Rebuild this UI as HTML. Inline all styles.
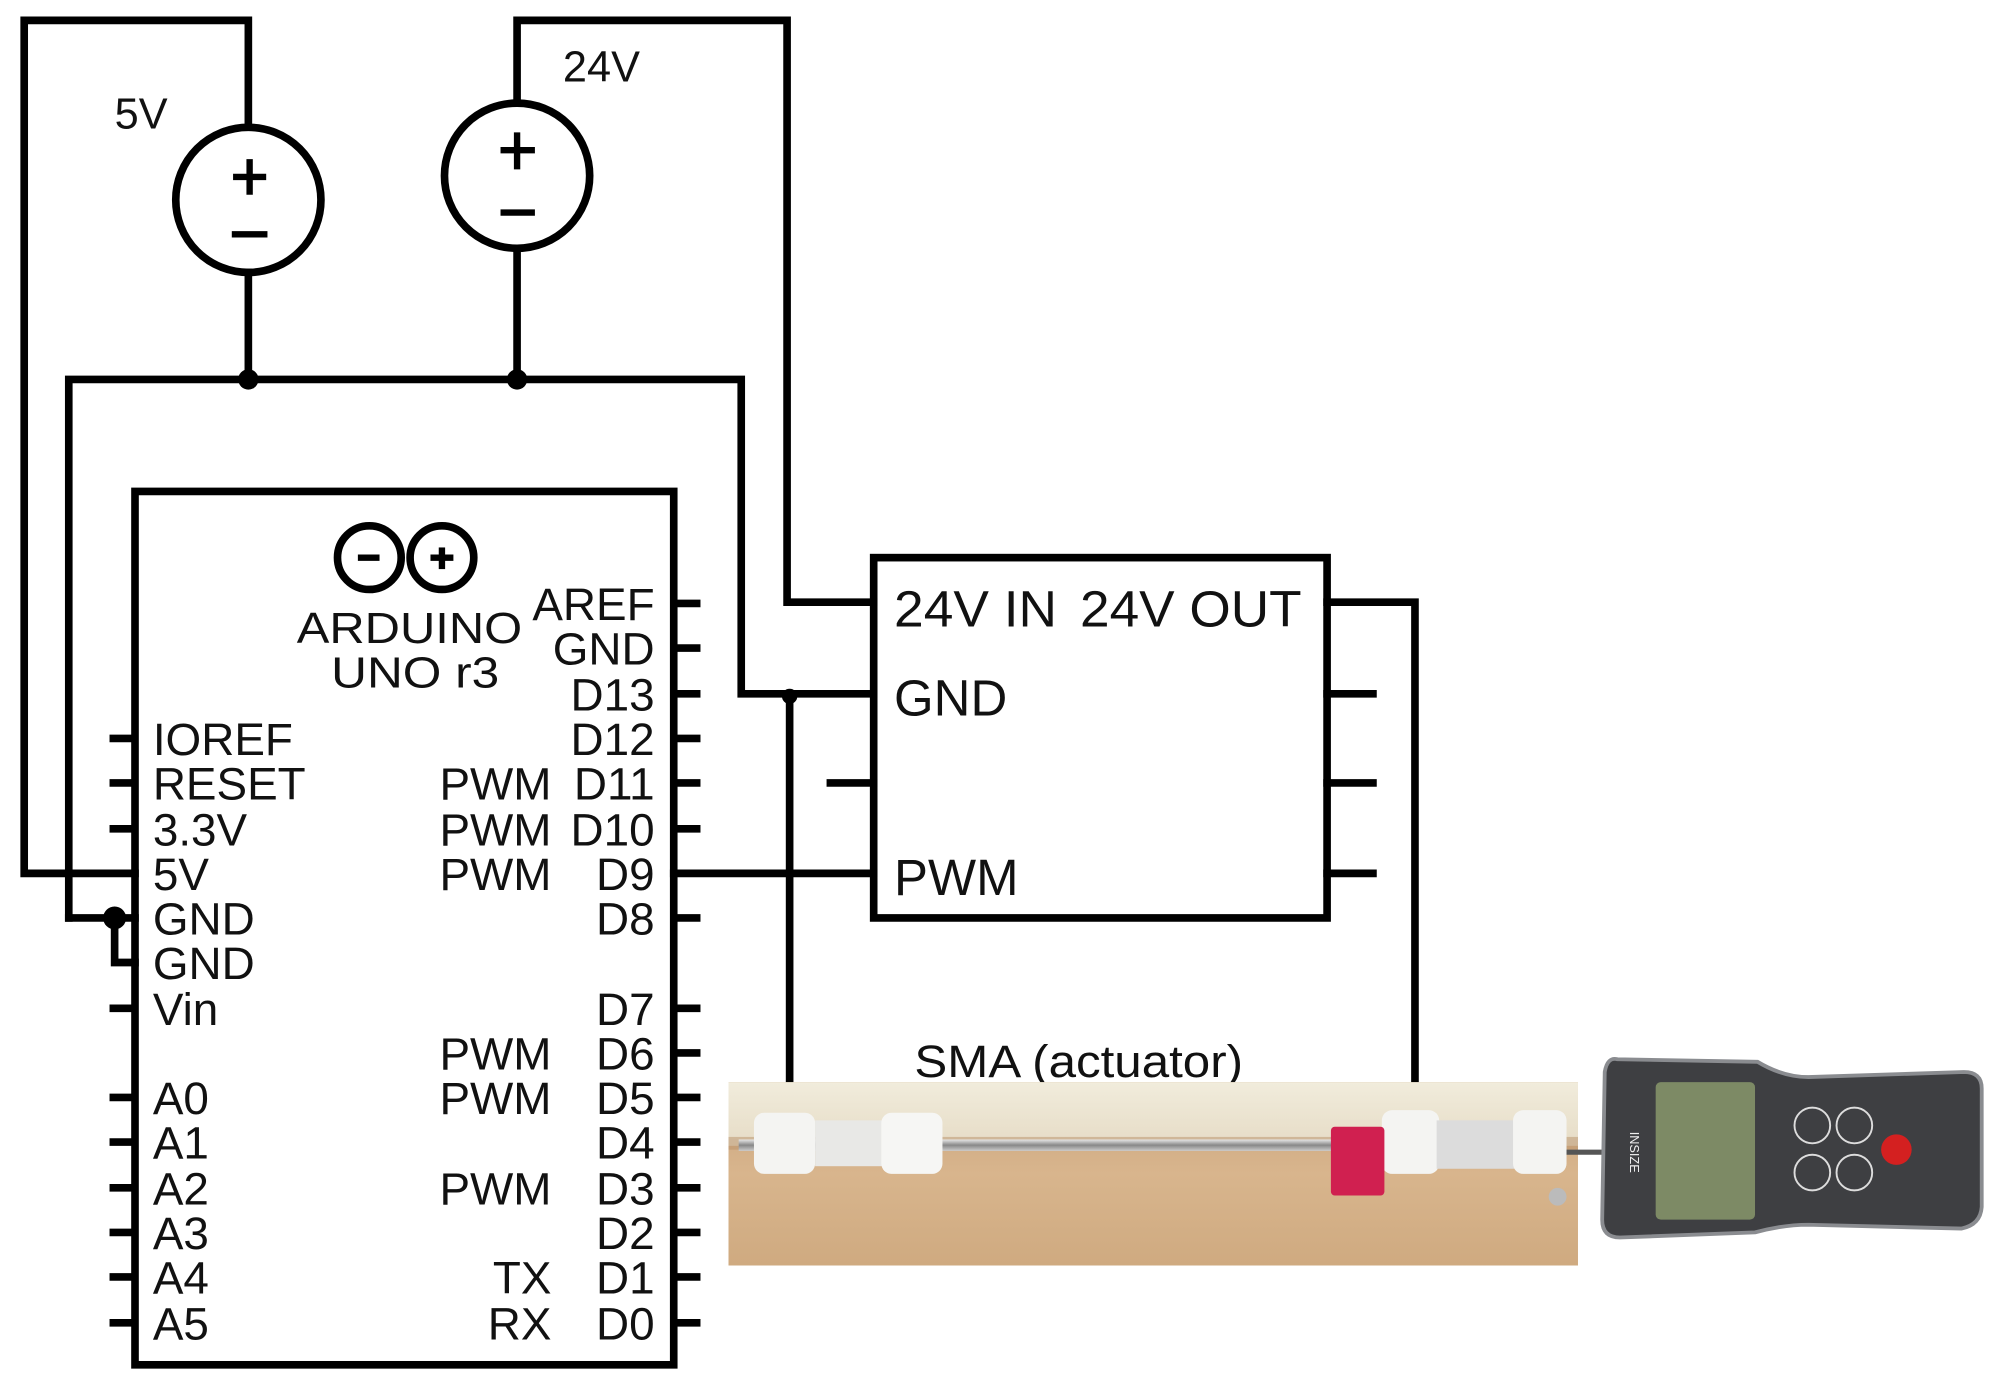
<!DOCTYPE html>
<html><head><meta charset="utf-8"><style>
html,body{margin:0;padding:0;background:#fff;}
svg{display:block;}
text{font-family:"Liberation Sans",sans-serif;fill:#111;}
</style></head><body>
<svg width="1997" height="1389" viewBox="0 0 1568 1091" preserveAspectRatio="none" xmlns="http://www.w3.org/2000/svg">
<defs>
<linearGradient id="wall" x1="0" y1="0" x2="0" y2="1"><stop offset="0" stop-color="#f1ecdc"/><stop offset="1" stop-color="#e6dcc6"/></linearGradient>
<linearGradient id="wood" x1="0" y1="0" x2="0" y2="1"><stop offset="0" stop-color="#c9a37c"/><stop offset="0.5" stop-color="#d8b58d"/><stop offset="1" stop-color="#cfaa80"/></linearGradient>
<linearGradient id="rod" x1="0" y1="0" x2="0" y2="1"><stop offset="0" stop-color="#e8e8e8"/><stop offset="0.5" stop-color="#888"/><stop offset="1" stop-color="#ccc"/></linearGradient>
</defs>
<g fill="none" stroke="#000" stroke-width="6" stroke-linecap="square">
<polyline points="195,99 195,16 19,16 19,686 106,686"/>
<circle cx="195" cy="157" r="57"/>
<line x1="195" y1="214" x2="195" y2="298"/>
<polyline points="406,80 406,16 618,16 618,473 686,473"/>
<circle cx="406" cy="138" r="57"/>
<line x1="406" y1="195" x2="406" y2="298"/>
<polyline points="54,721 54,298 582,298 582,545 686,545"/>
<line x1="54" y1="721" x2="106" y2="721"/>
<polyline points="90,721 90,756 106,756"/>
<rect x="686" y="438" width="356" height="283"/>
<polyline points="1042,473 1111,473 1111,850"/>
<line x1="1042" y1="545" x2="1078" y2="545"/>
<line x1="1042" y1="615" x2="1078" y2="615"/>
<line x1="1042" y1="686" x2="1078" y2="686"/>
<line x1="652" y1="615" x2="686" y2="615"/>
<line x1="620" y1="547" x2="620" y2="850"/>
<line x1="529" y1="686" x2="686" y2="686"/>
<rect x="106" y="386" width="423" height="686"/>
<circle cx="290" cy="438" r="25"/>
<circle cx="347" cy="438" r="25"/>
</g>
<g stroke="#000" stroke-width="5">
<line x1="183" y1="139" x2="209" y2="139"/><line x1="196" y1="125" x2="196" y2="153"/>
<line x1="182" y1="184" x2="210" y2="184"/>
<line x1="393" y1="118" x2="420" y2="118"/><line x1="406" y1="104" x2="406" y2="133"/>
<line x1="393" y1="167" x2="420" y2="167"/>
<line x1="281" y1="438" x2="298" y2="438"/>
<line x1="338" y1="438" x2="356" y2="438"/><line x1="347" y1="430" x2="347" y2="447"/>
</g>
<g fill="#000">
<circle cx="195" cy="298" r="8"/><circle cx="406" cy="298" r="8"/>
<circle cx="620" cy="547" r="6"/><circle cx="90" cy="721" r="9"/>
</g>
<g stroke="#000" stroke-width="6">
<line x1="529" y1="474" x2="550" y2="474"/><line x1="529" y1="509" x2="550" y2="509"/>
<line x1="529" y1="545" x2="550" y2="545"/><line x1="529" y1="580" x2="550" y2="580"/>
<line x1="529" y1="615" x2="550" y2="615"/><line x1="529" y1="651" x2="550" y2="651"/>
<line x1="529" y1="721" x2="550" y2="721"/>
<line x1="529" y1="792" x2="550" y2="792"/><line x1="529" y1="827" x2="550" y2="827"/>
<line x1="529" y1="862" x2="550" y2="862"/><line x1="529" y1="897" x2="550" y2="897"/>
<line x1="529" y1="933" x2="550" y2="933"/><line x1="529" y1="968" x2="550" y2="968"/>
<line x1="529" y1="1003" x2="550" y2="1003"/><line x1="529" y1="1039" x2="550" y2="1039"/>
<line x1="86" y1="580" x2="106" y2="580"/><line x1="86" y1="615" x2="106" y2="615"/>
<line x1="86" y1="651" x2="106" y2="651"/><line x1="86" y1="792" x2="106" y2="792"/>
<line x1="86" y1="862" x2="106" y2="862"/><line x1="86" y1="897" x2="106" y2="897"/>
<line x1="86" y1="933" x2="106" y2="933"/><line x1="86" y1="968" x2="106" y2="968"/>
<line x1="86" y1="1003" x2="106" y2="1003"/><line x1="86" y1="1039" x2="106" y2="1039"/>
</g>
<g font-size="34">
<text x="90" y="101">5V</text>
<text x="442" y="64">24V</text>
<text x="233" y="505" textLength="177" lengthAdjust="spacingAndGlyphs">ARDUINO</text>
<text x="260" y="540" textLength="132" lengthAdjust="spacingAndGlyphs">UNO r3</text>
</g>
<g font-size="36">
<text x="120" y="593">IOREF</text><text x="120" y="628">RESET</text>
<text x="120" y="664">3.3V</text><text x="120" y="699">5V</text>
<text x="120" y="734">GND</text><text x="120" y="769">GND</text>
<text x="120" y="805">Vin</text>
<text x="120" y="875">A0</text><text x="120" y="910">A1</text><text x="120" y="946">A2</text>
<text x="120" y="981">A3</text><text x="120" y="1016">A4</text><text x="120" y="1052">A5</text>
</g>
<g font-size="36" text-anchor="end">
<text x="514" y="487">AREF</text><text x="514" y="522">GND</text><text x="514" y="558">D13</text>
<text x="514" y="593">D12</text><text x="514" y="628">D11</text><text x="514" y="664">D10</text>
<text x="514" y="699">D9</text><text x="514" y="734">D8</text><text x="514" y="805">D7</text>
<text x="514" y="840">D6</text><text x="514" y="875">D5</text><text x="514" y="910">D4</text>
<text x="514" y="946">D3</text><text x="514" y="981">D2</text><text x="514" y="1016">D1</text>
<text x="514" y="1052">D0</text>
<text x="433" y="628">PWM</text><text x="433" y="664">PWM</text><text x="433" y="699">PWM</text>
<text x="433" y="840">PWM</text><text x="433" y="875">PWM</text><text x="433" y="946">PWM</text>
<text x="433" y="1016">TX</text><text x="433" y="1052">RX</text>
</g>
<g font-size="40">
<text x="702" y="492" textLength="128" lengthAdjust="spacingAndGlyphs">24V IN</text>
<text x="848" y="492" textLength="174" lengthAdjust="spacingAndGlyphs">24V OUT</text>
<text x="702" y="562">GND</text><text x="702" y="703">PWM</text>
</g>
<text x="718" y="846" font-size="36" textLength="258" lengthAdjust="spacingAndGlyphs">SMA (actuator)</text>
<rect x="572" y="850" width="667" height="144" fill="url(#wood)"/>
<rect x="572" y="850" width="667" height="50" fill="url(#wall)"/>
<rect x="572" y="893" width="667" height="10" fill="#b89068" opacity="0.5"/>
<rect x="580" y="895" width="650" height="9" fill="url(#rod)"/>
<rect x="592" y="874" width="48" height="48" rx="8" fill="#f4f4f2"/>
<rect x="640" y="880" width="55" height="36" fill="#e8e8e6"/>
<rect x="692" y="874" width="48" height="48" rx="8" fill="#f6f6f4"/>
<rect x="1085" y="872" width="45" height="50" rx="8" fill="#f4f4f2"/>
<rect x="1128" y="880" width="62" height="38" fill="#dcdcdc"/>
<rect x="1188" y="872" width="42" height="50" rx="8" fill="#f4f4f2"/>
<rect x="1045" y="885" width="42" height="54" rx="3" fill="#d02050"/>
<circle cx="1223" cy="940" r="7" fill="#bbb"/>
<line x1="1230" y1="905" x2="1262" y2="905" stroke="#555" stroke-width="4"/>
<path d="M1270,832 Q1262,830 1260,842 L1258,958 Q1258,972 1272,972 L1378,968 Q1400,962 1420,962 L1540,965 Q1555,962 1556,948 L1556,855 Q1556,842 1542,842 L1420,846 Q1400,846 1380,834 Z" fill="#3e3f42" stroke="#8a8c90" stroke-width="3"/>
<rect x="1300" y="850" width="78" height="108" rx="4" fill="#7d8a65"/>
<circle cx="1423" cy="884" r="14" fill="none" stroke="#ddd" stroke-width="1.5"/>
<circle cx="1456" cy="884" r="14" fill="none" stroke="#ddd" stroke-width="1.5"/>
<circle cx="1423" cy="921" r="14" fill="none" stroke="#ddd" stroke-width="1.5"/>
<circle cx="1456" cy="921" r="14" fill="none" stroke="#ddd" stroke-width="1.5"/>
<circle cx="1489" cy="903" r="12" fill="#d42020"/>
<text x="1280" y="905" font-size="10" transform="rotate(90 1280 905)" text-anchor="middle" style="fill:#eee">INSIZE</text>
</svg>
</body></html>
